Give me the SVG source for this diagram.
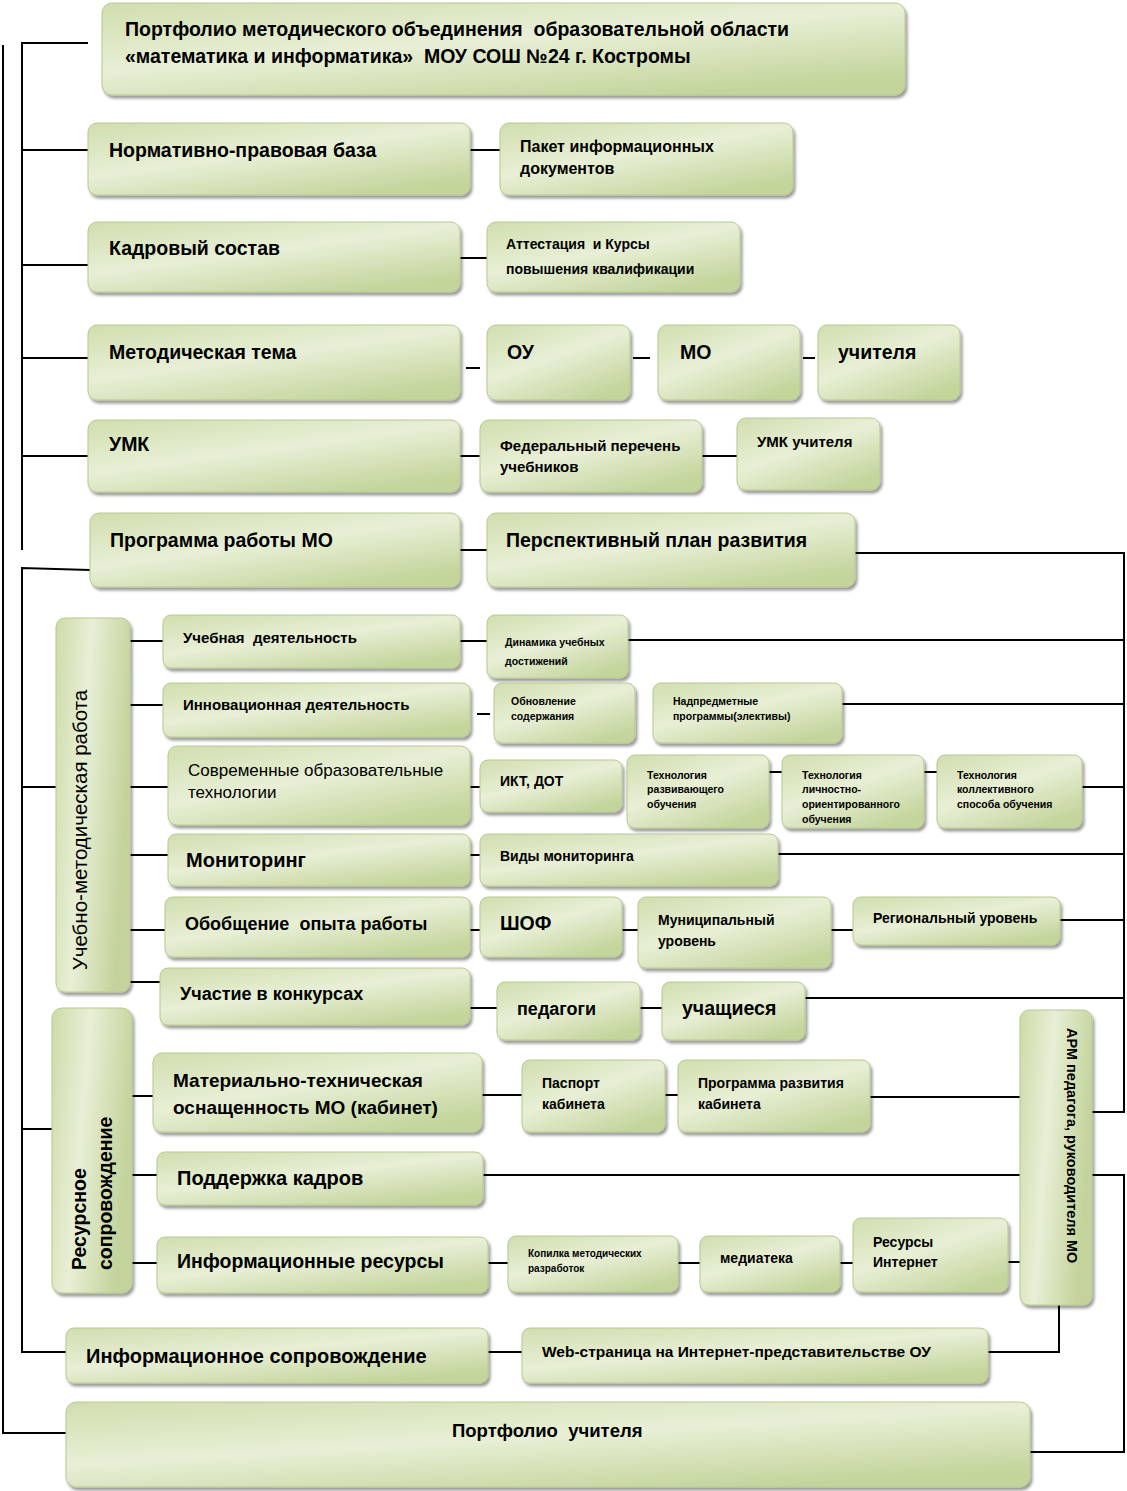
<svg xmlns="http://www.w3.org/2000/svg" width="1127" height="1491" viewBox="0 0 1127 1491" xml:space="preserve">
<defs>
<linearGradient id="g" x1="0" y1="0" x2="0.7" y2="1">
<stop offset="0" stop-color="#d0deae"/>
<stop offset="0.5" stop-color="#e8efd6"/>
<stop offset="1" stop-color="#c4d59c"/>
</linearGradient>
<linearGradient id="gv" x1="0" y1="0" x2="1" y2="0.3">
<stop offset="0" stop-color="#cddba8"/>
<stop offset="0.45" stop-color="#e8efd6"/>
<stop offset="1" stop-color="#c3d39b"/>
</linearGradient>
<filter id="sh" x="-5%" y="-5%" width="115%" height="130%">
<feGaussianBlur in="SourceAlpha" stdDeviation="1.5"/>
<feOffset dx="2" dy="3" result="o"/>
<feComponentTransfer><feFuncA type="linear" slope="0.4"/></feComponentTransfer>
<feMerge><feMergeNode/><feMergeNode in="SourceGraphic"/></feMerge>
</filter>
</defs>
<style>
.b{fill:url(#g);stroke:#b8c890;stroke-width:1;filter:url(#sh)}
.bv{fill:url(#gv);stroke:#b8c890;stroke-width:1;filter:url(#sh)}
text{font-family:"Liberation Sans",Arial,sans-serif;font-weight:bold;fill:#000;white-space:pre}
.L{font-size:19.5px}
.M{font-size:15px}
.S{font-size:14px}
.X{font-size:10.5px}
.R{font-weight:normal}
.ln{stroke:#000;stroke-width:2;fill:none}
</style>
<rect width="1127" height="1491" fill="#fff"/>
<g id="connectors" class="ln">
<path d="M3,45 V1433 H66"/>
<path d="M88,43 H22 V550"/>
<path d="M22,150 H88"/>
<path d="M22,265 H88"/>
<path d="M22,358 H88"/>
<path d="M22,456 H88"/>
<path d="M90,570 L22,568 V1352 H66"/>
<path d="M22,787 H56"/>
<path d="M22,1129 H52"/>
<path d="M130,641 H163 M130,705 H163 M130,787 H168 M130,855 H168 M130,930 H165 M130,982 H160"/>
<path d="M132,1096 H153 M132,1175 H157 M132,1263 H157"/>
<path d="M470,150 H500"/>
<path d="M460,258 H487"/>
<path d="M466,368 H480"/>
<path d="M633,358 H650 M803,358 H815"/>
<path d="M460,456 H480 M702,456 H737"/>
<path d="M460,550 H487"/>
<path d="M460,641 H487"/>
<path d="M477,714 H490"/>
<path d="M470,787 H480 M769,772 H782 M924,772 H937"/>
<path d="M470,855 H480"/>
<path d="M470,930 H480 M622,930 H638 M831,930 H853"/>
<path d="M470,1008 H497 M640,1008 H662"/>
<path d="M482,1095 H522 M665,1095 H678 M870,1097 H1020"/>
<path d="M483,1175 H1020"/>
<path d="M488,1263 H508 M678,1263 H700 M840,1263 H853 M1008,1262 H1020"/>
<path d="M488,1352 H522"/>
<path d="M855,553 H1124 V1112 H1092"/>
<path d="M628,640 H1124 M842,704 H1124 M1082,787 H1124 M778,854 H1124 M1060,920 H1124 M805,998 H1124"/>
<path d="M1092,1175 H1124 V1452 H1030"/>
<path d="M1059,1305 V1352 H988"/>
</g>
<g id="n-title"><rect class="b" x="102" y="3" width="803" height="92" rx="10"/>
<text x="125" y="36" style="font-size:19.5px">Портфолио методического объединения  образовательной области</text>
<text x="125" y="63" style="font-size:19.5px">«математика и информатика»  МОУ СОШ №24 г. Костромы</text></g>
<g id="n-normativ"><rect class="b" x="88" y="123" width="382" height="72" rx="9"/><text class="L" x="109" y="157">Нормативно-правовая база</text></g>
<g id="n-paket"><rect class="b" x="500" y="123" width="293" height="72" rx="9"/><text x="520" y="152" style="font-size:16px">Пакет информационных</text><text x="520" y="174" style="font-size:16px">документов</text></g>
<g id="n-kadr"><rect class="b" x="88" y="222" width="372" height="70" rx="9"/><text class="L" x="109" y="255">Кадровый состав</text></g>
<g id="n-attest"><rect class="b" x="487" y="222" width="253" height="70" rx="9"/><text class="S" x="506" y="249">Аттестация  и Курсы</text><text class="S" x="506" y="274">повышения квалификации</text></g>
<g id="n-mettema"><rect class="b" x="88" y="325" width="372" height="75" rx="9"/><text class="L" x="109" y="359">Методическая тема</text></g>
<g id="n-ou"><rect class="b" x="487" y="325" width="143" height="75" rx="9"/><text class="L" x="507" y="359">ОУ</text></g>
<g id="n-mo"><rect class="b" x="658" y="325" width="142" height="75" rx="9"/><text class="L" x="680" y="359">МО</text></g>
<g id="n-uchitelya"><rect class="b" x="818" y="325" width="142" height="75" rx="9"/><text class="L" x="838" y="359">учителя</text></g>
<g id="n-umk"><rect class="b" x="88" y="420" width="372" height="72" rx="9"/><text class="L" x="109" y="451">УМК</text></g>
<g id="n-fed"><rect class="b" x="480" y="420" width="222" height="72" rx="9"/><text x="500" y="451" style="font-size:15px">Федеральный перечень</text><text x="500" y="472" style="font-size:15px">учебников</text></g>
<g id="n-umkuch"><rect class="b" x="737" y="418" width="143" height="72" rx="9"/><text class="M" x="757" y="447">УМК учителя</text></g>
<g id="n-progr"><rect class="b" x="90" y="513" width="370" height="74" rx="9"/><text class="L" x="110" y="547">Программа работы МО</text></g>
<g id="n-persp"><rect class="b" x="487" y="513" width="368" height="74" rx="9"/><text class="L" x="506" y="547">Перспективный план развития</text></g>
<g id="n-umr"><rect class="bv" x="56" y="618" width="74" height="374" rx="9"/><text class="R" transform="translate(87,830) rotate(-90)" text-anchor="middle" style="font-size:20.5px">Учебно-методическая работа</text></g>
<g id="n-uchdeyat"><rect class="b" x="163" y="615" width="297" height="53" rx="8"/><text class="M" x="183" y="643">Учебная  деятельность</text></g>
<g id="n-dinam"><rect class="b" x="487" y="615" width="141" height="63" rx="8"/><text x="505" y="646" style="font-size:10.5px">Динамика учебных</text><text x="505" y="665" style="font-size:10.5px">достижений</text></g>
<g id="n-innov"><rect class="b" x="163" y="683" width="307" height="54" rx="8"/><text class="M" x="183" y="710">Инновационная деятельность</text></g>
<g id="n-obnov"><rect class="b" x="494" y="683" width="141" height="60" rx="8"/><text class="X" x="511" y="705">Обновление</text><text class="X" x="511" y="720">содержания</text></g>
<g id="n-nadpr"><rect class="b" x="653" y="683" width="189" height="60" rx="8"/><text class="X" x="673" y="705">Надпредметные</text><text class="X" x="673" y="720">программы(элективы)</text></g>
<g id="n-sovr"><rect class="b" x="168" y="746" width="302" height="79" rx="9"/><text class="R" x="188" y="776" style="font-size:17px">Современные образовательные</text><text class="R" x="188" y="798" style="font-size:17px">технологии</text></g>
<g id="n-ikt"><rect class="b" x="480" y="760" width="142" height="52" rx="8"/><text class="S" x="500" y="786">ИКТ, ДОТ</text></g>
<g id="n-tech1"><rect class="b" x="627" y="755" width="142" height="73" rx="8"/><text class="X" x="647" y="779">Технология</text><text class="X" x="647" y="793">развивающего</text><text class="X" x="647" y="808">обучения</text></g>
<g id="n-tech2"><rect class="b" x="782" y="755" width="142" height="73" rx="8"/><text class="X" x="802" y="779">Технология</text><text class="X" x="802" y="793">личностно-</text><text class="X" x="802" y="808">ориентированного</text><text class="X" x="802" y="823">обучения</text></g>
<g id="n-tech3"><rect class="b" x="937" y="755" width="145" height="73" rx="8"/><text class="X" x="957" y="779">Технология</text><text class="X" x="957" y="793">коллективного</text><text class="X" x="957" y="808">способа обучения</text></g>
<g id="n-monit"><rect class="b" x="168" y="834" width="302" height="52" rx="8"/><text x="186" y="867" style="font-size:20px">Мониторинг</text></g>
<g id="n-vidy"><rect class="b" x="480" y="834" width="298" height="52" rx="8"/><text class="S" x="500" y="861">Виды мониторинга</text></g>
<g id="n-obob"><rect class="b" x="165" y="897" width="305" height="60" rx="8"/><text x="185" y="930" style="font-size:18px">Обобщение  опыта работы</text></g>
<g id="n-shof"><rect class="b" x="480" y="897" width="142" height="60" rx="8"/><text class="L" x="500" y="930">ШОФ</text></g>
<g id="n-munic"><rect class="b" x="638" y="897" width="193" height="71" rx="8"/><text class="S" x="658" y="925">Муниципальный</text><text class="S" x="658" y="946">уровень</text></g>
<g id="n-region"><rect class="b" x="853" y="897" width="207" height="48" rx="8"/><text class="S" x="873" y="923">Региональный уровень</text></g>
<g id="n-konk"><rect class="b" x="160" y="968" width="310" height="57" rx="8"/><text x="180" y="1000" style="font-size:18px">Участие в конкурсах</text></g>
<g id="n-pedag"><rect class="b" x="497" y="982" width="143" height="58" rx="8"/><text x="517" y="1015" style="font-size:18px">педагоги</text></g>
<g id="n-uchasch"><rect class="b" x="662" y="982" width="143" height="58" rx="8"/><text class="L" x="682" y="1015">учащиеся</text></g>
<g id="n-resurs"><rect class="bv" x="52" y="1008" width="80" height="285" rx="10"/><text class="L" transform="translate(86,1270) rotate(-90)">Ресурсное</text><text class="L" transform="translate(112,1270) rotate(-90)">сопровождение</text></g>
<g id="n-mat"><rect class="b" x="153" y="1053" width="329" height="79" rx="9"/><text x="173" y="1087" style="font-size:19px">Материально-техническая</text><text x="173" y="1114" style="font-size:19px">оснащенность МО (кабинет)</text></g>
<g id="n-pasp"><rect class="b" x="522" y="1060" width="143" height="72" rx="8"/><text class="S" x="542" y="1088">Паспорт</text><text class="S" x="542" y="1109">кабинета</text></g>
<g id="n-progrkab"><rect class="b" x="678" y="1060" width="192" height="72" rx="8"/><text class="S" x="698" y="1088">Программа развития</text><text class="S" x="698" y="1109">кабинета</text></g>
<g id="n-arm"><rect class="bv" x="1020" y="1010" width="72" height="295" rx="9"/><text transform="translate(1067,1028) rotate(90)" style="font-size:14.5px">АРМ педагога, руководителя МО</text></g>
<g id="n-podd"><rect class="b" x="157" y="1152" width="326" height="53" rx="8"/><text x="177" y="1185" style="font-size:20px">Поддержка кадров</text></g>
<g id="n-infres"><rect class="b" x="157" y="1237" width="331" height="56" rx="8"/><text class="L" x="177" y="1268">Информационные ресурсы</text></g>
<g id="n-kopilka"><rect class="b" x="508" y="1236" width="170" height="56" rx="8"/><text x="528" y="1257" style="font-size:10px">Копилка методических</text><text x="528" y="1272" style="font-size:10px">разработок</text></g>
<g id="n-media"><rect class="b" x="700" y="1236" width="140" height="56" rx="8"/><text class="S" x="720" y="1263">медиатека</text></g>
<g id="n-resint"><rect class="b" x="853" y="1218" width="155" height="74" rx="8"/><text class="S" x="873" y="1247">Ресурсы</text><text class="S" x="873" y="1267">Интернет</text></g>
<g id="n-infsopr"><rect class="b" x="66" y="1328" width="422" height="55" rx="8"/><text x="86" y="1363" style="font-size:20px">Информационное сопровождение</text></g>
<g id="n-web"><rect class="b" x="522" y="1328" width="466" height="55" rx="8"/><text x="542" y="1357" style="font-size:15.5px">Web-страница на Интернет-представительстве ОУ</text></g>
<g id="n-portf"><rect class="b" x="66" y="1402" width="964" height="85" rx="10"/><text x="452" y="1437" style="font-size:18.5px">Портфолио  учителя</text></g>
</svg>
